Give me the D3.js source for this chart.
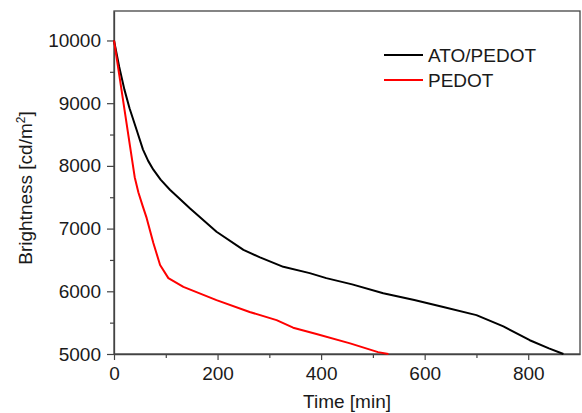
<!DOCTYPE html>
<html>
<head>
<meta charset="utf-8">
<script src="https://cdn.jsdelivr.net/npm/d3@7"></script>
<style>
	body { margin: 0; background: #fff; }
	svg { display: block; font-family: "Liberation Sans", Arial, sans-serif; }
</style>
</head>
<body>
<svg id="chart"></svg>
<script>
// values
const seriesNames = ["ATO/PEDOT", "PEDOT"];
const seriesColors = ["#000000", "#ff0000"];

const atoTime = [0, 10, 20, 30, 45, 56, 66, 76, 90, 108, 147, 198, 250, 282, 327, 378, 410, 460, 520, 580, 636, 700, 752, 803, 840, 868];
const atoBright = [10000, 9580, 9220, 8920, 8540, 8260, 8080, 7940, 7780, 7620, 7320, 6950, 6660, 6540, 6390, 6290, 6210, 6110, 5970, 5860, 5750, 5620, 5440, 5220, 5090, 5000];

const pedotTime = [0, 10, 18, 31, 40, 47, 55, 63, 76, 89, 105, 134, 198, 262, 314, 346, 391, 456, 510, 530];
const pedotBright = [10000, 9460, 9020, 8310, 7820, 7580, 7370, 7170, 6770, 6420, 6210, 6070, 5860, 5670, 5540, 5420, 5320, 5170, 5030, 5000];

const xTicks = [0, 200, 400, 600, 800];
const xMinor = [100, 300, 500, 700];
const yTicks = [5000, 6000, 7000, 8000, 9000, 10000];
const yMinor = [5500, 6500, 7500, 8500, 9500];

const W = 582, H = 413;
const margin = { top: 11, right: 2, bottom: 59, left: 114 };
const width = W - margin.left - margin.right,
	height = H - margin.top - margin.bottom;

const svg = d3.select("#chart").attr("width", W).attr("height", H);
const g = svg.append("g").attr("transform", `translate(${margin.left},${margin.top})`);

const x = d3.scaleLinear().domain([0, 900]).range([0, width]);
const y = d3.scaleLinear().domain([5000, 10470]).range([height, 0]);

// minor ticks first
g.append("g")
	.attr("transform", `translate(0,${height})`)
	.call(d3.axisBottom(x).tickValues(xMinor).tickSize(4).tickFormat(""))
	.call(a => a.select(".domain").remove());
g.append("g")
	.call(d3.axisLeft(y).tickValues(yMinor).tickSize(4).tickFormat(""))
	.call(a => a.select(".domain").remove());

// major axes
g.append("g")
	.attr("transform", `translate(0,${height})`)
	.call(d3.axisBottom(x).tickValues(xTicks).tickSize(6).tickSizeOuter(0).tickPadding(7));
g.append("g")
	.call(d3.axisLeft(y).tickValues(yTicks).tickSize(7).tickSizeOuter(0).tickPadding(6).tickFormat(d3.format("d")));

g.selectAll(".tick text").style("font-size", "19px").attr("fill", "#1a1a1a");
g.selectAll(".tick line").attr("stroke", "#444").attr("stroke-width", 1.2);
g.selectAll(".domain").attr("stroke", "#444").attr("stroke-width", 1.3);

// frame
g.append("rect")
	.attr("width", width)
	.attr("height", height)
	.attr("fill", "none")
	.attr("stroke", "#444")
	.attr("stroke-width", 1.3);

// curves
const line = d3.line().x(d => x(d[0])).y(d => y(d[1]));
const series = [
	d3.zip(atoTime, atoBright),
	d3.zip(pedotTime, pedotBright)
];
series.forEach((s, i) => {
	g.append("path")
		.datum(s)
		.attr("fill", "none")
		.attr("stroke", seriesColors[i])
		.attr("stroke-width", 2)
		.attr("stroke-linejoin", "round")
		.attr("d", line);
});

// legend
seriesNames.forEach((name, i) => {
	const ly = 55 + i * 25;
	svg.append("line")
		.attr("x1", 384).attr("x2", 423)
		.attr("y1", ly).attr("y2", ly)
		.attr("stroke", seriesColors[i])
		.attr("stroke-width", 2);
	svg.append("text")
		.attr("x", 428)
		.attr("y", ly)
		.attr("dy", "0.36em")
		.style("font-size", "19px")
		.attr("fill", "#1a1a1a")
		.text(name);
});

// axis titles
svg.append("text")
	.attr("x", margin.left + x(450))
	.attr("y", 408)
	.attr("text-anchor", "middle")
	.style("font-size", "19px")
	.attr("fill", "#1a1a1a")
	.text("Time [min]");

const yt = svg.append("text")
	.attr("transform", `translate(32,188) rotate(-90)`)
	.attr("text-anchor", "middle")
	.style("font-size", "19px")
	.attr("fill", "#1a1a1a");
yt.append("tspan").text("Brightness [cd/m");
yt.append("tspan").attr("dy", -7).style("font-size", "12px").text("2");
yt.append("tspan").attr("dy", 7).text("]");
</script>
</body>
</html>
